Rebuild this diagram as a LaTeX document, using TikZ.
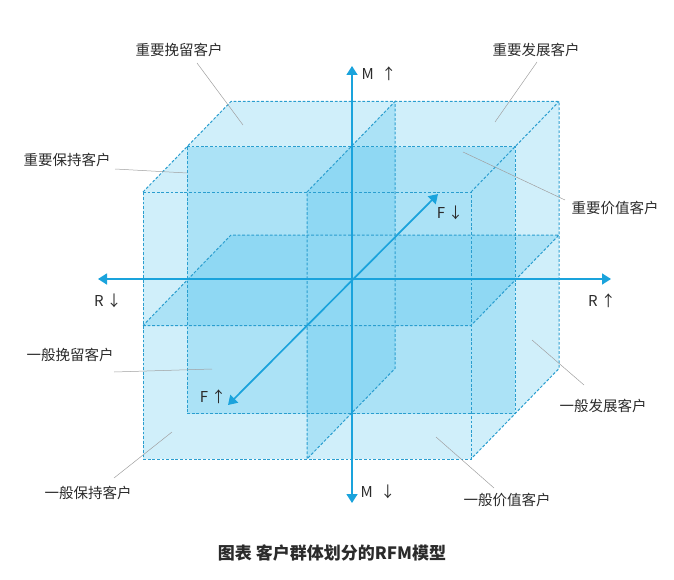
\documentclass[tikz,border=0pt]{standalone}
\usepackage{fontspec}
\setmainfont{Noto Sans CJK SC}
\usetikzlibrary{arrows.meta}
\definecolor{axisblue}{HTML}{1AA3DC}
\definecolor{edgeblue}{HTML}{2A9ECF}
\definecolor{layerblue}{HTML}{2AB4E8}
\definecolor{txt}{HTML}{2B2B2B}
\definecolor{leadgray}{HTML}{A0A0A0}
\tikzset{
  layer/.style={fill=layerblue, fill opacity=0.22, draw=none},
  edge/.style={draw=edgeblue, line width=1pt, dash pattern=on 2.8pt off 1.8pt},
  axisline/.style={draw=axisblue, line width=1.7pt, {Triangle[length=9pt,width=11pt]}-{Triangle[length=9pt,width=11pt]}},
  lab/.style={text=txt, font=\fontsize{14.5}{16}\selectfont, inner sep=0pt},
  axlab/.style={text=txt, font=\fontsize{15}{16}\selectfont, inner sep=0pt},
  leader/.style={draw=leadgray, line width=0.5pt}
}
\begin{document}
\begin{tikzpicture}[x=1pt,y=-1pt]
\useasboundingbox (0,0) rectangle (674,580);
% cube vertices
\coordinate (FTL) at (143,192);
\coordinate (FTR) at (471,192);
\coordinate (FBR) at (471,459);
\coordinate (FBL) at (143,459);
\coordinate (BTL) at (231,101.5);
\coordinate (BTR) at (559,101.5);
\coordinate (BBR) at (559,368.5);
\coordinate (BBL) at (231,368.5);
% mid-depth (F) plane
\coordinate (MTL) at (187,146.75);
\coordinate (MTR) at (515,146.75);
\coordinate (MBR) at (515,413.75);
\coordinate (MBL) at (187,413.75);
% vertical (R) plane
\coordinate (VFT) at (307,192);
\coordinate (VFB) at (307,459);
\coordinate (VBT) at (395,101.5);
\coordinate (VBB) at (395,368.5);
% horizontal (M) plane
\coordinate (HFL) at (143,325.5);
\coordinate (HFR) at (471,325.5);
\coordinate (HBR) at (559,235);
\coordinate (HBL) at (231,235);
% fills
\path[layer] (FTL) -- (BTL) -- (BTR) -- (BBR) -- (FBR) -- (FBL) -- cycle;
\path[layer] (MTL) -- (MTR) -- (MBR) -- (MBL) -- cycle;
% union of the R plane and the M plane, painted once (nonzero rule)
\path[layer] (VFT) -- (VBT) -- (VBB) -- (VFB) -- cycle
             (HFL) -- (HBL) -- (HBR) -- (HFR) -- cycle;
% dashed edges
\draw[edge] (FTL) -- (FTR) -- (FBR) -- (FBL) -- cycle;
\draw[edge] (FTL) -- (BTL) -- (BTR) -- (BBR) -- (FBR);
\draw[edge] (FTR) -- (BTR);
\draw[edge] (MTL) -- (MTR) -- (MBR) -- (MBL) -- cycle;
\draw[edge] (VFT) -- (VBT) -- (VBB) -- (VFB) -- cycle;
\draw[edge] (HFL) -- (HFR) -- (HBR) -- (HBL) -- cycle;
% axes
\coordinate (Mtop) at (352,66);
\coordinate (Mbot) at (352,503);
\coordinate (Rl) at (98,279);
\coordinate (Rr) at (611,279);
\coordinate (Fur) at (438,194);
\coordinate (Fll) at (228,405);
\draw[axisline] (Mbot) -- (Mtop);
\draw[axisline] (Rl) -- (Rr);
\draw[axisline] (Fll) -- (Fur);
% axis labels
\node[axlab] (mup) at (379,74) {M\hspace{0.5em}↑};
\node[axlab] (mdn) at (378,492) {M\hspace{0.5em}↓};
\node[axlab] (rdn) at (108,301) {R\hspace{0.2em}↓};
\node[axlab] (rup) at (602,301) {R\hspace{0.2em}↑};
\node[axlab] (fdn) at (450,213) {F\hspace{0.2em}↓};
\node[axlab] (fup) at (213,397) {F\hspace{0.2em}↑};
% region labels
\node[lab] (l1) at (179,50) {重要挽留客户};
\node[lab] (l2) at (536,50) {重要发展客户};
\node[lab] (l3) at (67,160) {重要保持客户};
\node[lab] (l4) at (615,208) {重要价值客户};
\node[lab] (l5) at (70,355) {一般挽留客户};
\node[lab] (l6) at (603,406) {一般发展客户};
\node[lab] (l7) at (88,493) {一般保持客户};
\node[lab] (l8) at (507,500) {一般价值客户};
% leader lines
\coordinate (a1) at (197,63);   \coordinate (b1) at (243,125);
\coordinate (a2) at (537,62);   \coordinate (b2) at (495,122);
\coordinate (a3) at (115,169);  \coordinate (b3) at (187,173);
\coordinate (a4) at (565,200);  \coordinate (b4) at (463,152);
\coordinate (a5) at (114,372);  \coordinate (b5) at (212,369);
\coordinate (a6) at (584,385);  \coordinate (b6) at (532,340);
\coordinate (a7) at (114,478);  \coordinate (b7) at (172,432);
\coordinate (a8) at (494,488);  \coordinate (b8) at (436,437);
\draw[leader] (a1) -- (b1);
\draw[leader] (a2) -- (b2);
\draw[leader] (a3) -- (b3);
\draw[leader] (a4) -- (b4);
\draw[leader] (a5) -- (b5);
\draw[leader] (a6) -- (b6);
\draw[leader] (a7) -- (b7);
\draw[leader] (a8) -- (b8);
% caption
\node[text=txt, font=\fontsize{17}{18}\selectfont\bfseries, inner sep=0pt] (cap) at (332,553) {图表 客户群体划分的RFM模型};
\end{tikzpicture}
\end{document}
